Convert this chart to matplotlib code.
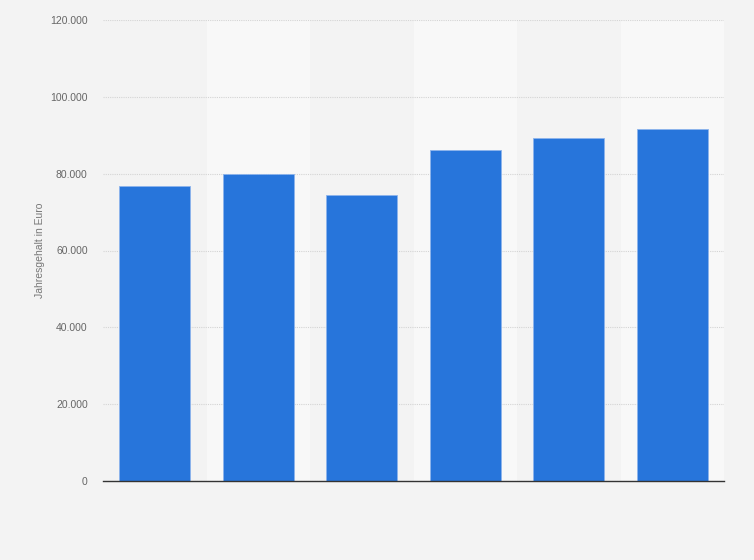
import matplotlib.pyplot as plt
from matplotlib.ticker import FuncFormatter

plt.rcParams['font.family'] = ['Liberation Sans', 'DejaVu Sans']

# data (no category labels shown)
categories = ["1", "2", "3", "4", "5", "6"]
salaries = [76700, 79800, 74400, 86100, 89200, 91500]
y_ticks = [0, 20000, 40000, 60000, 80000, 100000, 120000]

BAR_COLOR = "#2775db"
FIG_BG = "#f3f3f3"
BAND_LIGHT = "#f8f8f8"


def fmt_thousands(v, pos):
    return f"{int(v):,}".replace(",", ".")


def main():
    fig = plt.figure(figsize=(7.54, 5.6), dpi=100, facecolor=FIG_BG)
    ax = fig.add_axes([103 / 754, 1 - 481 / 560, 621 / 754, 461 / 560])
    ax.set_facecolor(FIG_BG)

    xs = list(range(len(categories)))

    # alternating column bands
    for i in xs:
        if i % 2 == 1:
            ax.axvspan(i - 0.5, i + 0.5, color=BAND_LIGHT, zorder=0, lw=0)

    ax.bar(xs, salaries, width=0.69, color=BAR_COLOR,
           edgecolor="#8db4ec", linewidth=0.6, zorder=3)

    ax.set_xlim(-0.5, len(categories) - 0.5)
    ax.set_ylim(0, 120000)
    ax.set_yticks(y_ticks)
    ax.yaxis.set_major_formatter(FuncFormatter(fmt_thousands))
    ax.set_xticks(xs)
    ax.set_xticklabels([""] * len(categories))

    ax.grid(axis="y", color="#d4d4d4", linestyle=(0, (1, 1)), linewidth=0.8, zorder=1)
    ax.tick_params(axis="both", length=0)
    ax.tick_params(axis="y", labelsize=7.5, labelcolor="#666666", pad=11)

    for s in ["top", "right", "left"]:
        ax.spines[s].set_visible(False)
    ax.spines["bottom"].set_color("#333333")
    ax.spines["bottom"].set_linewidth(1.0)
    ax.spines["bottom"].set_zorder(4)

    ax.set_ylabel("Jahresgehalt in Euro", fontsize=7.5, color="#777777")
    ax.yaxis.set_label_coords((45 - 103) / 621, 0.5)

    fig.savefig("out.png", dpi=100, facecolor=FIG_BG)


if __name__ == "__main__":
    main()
